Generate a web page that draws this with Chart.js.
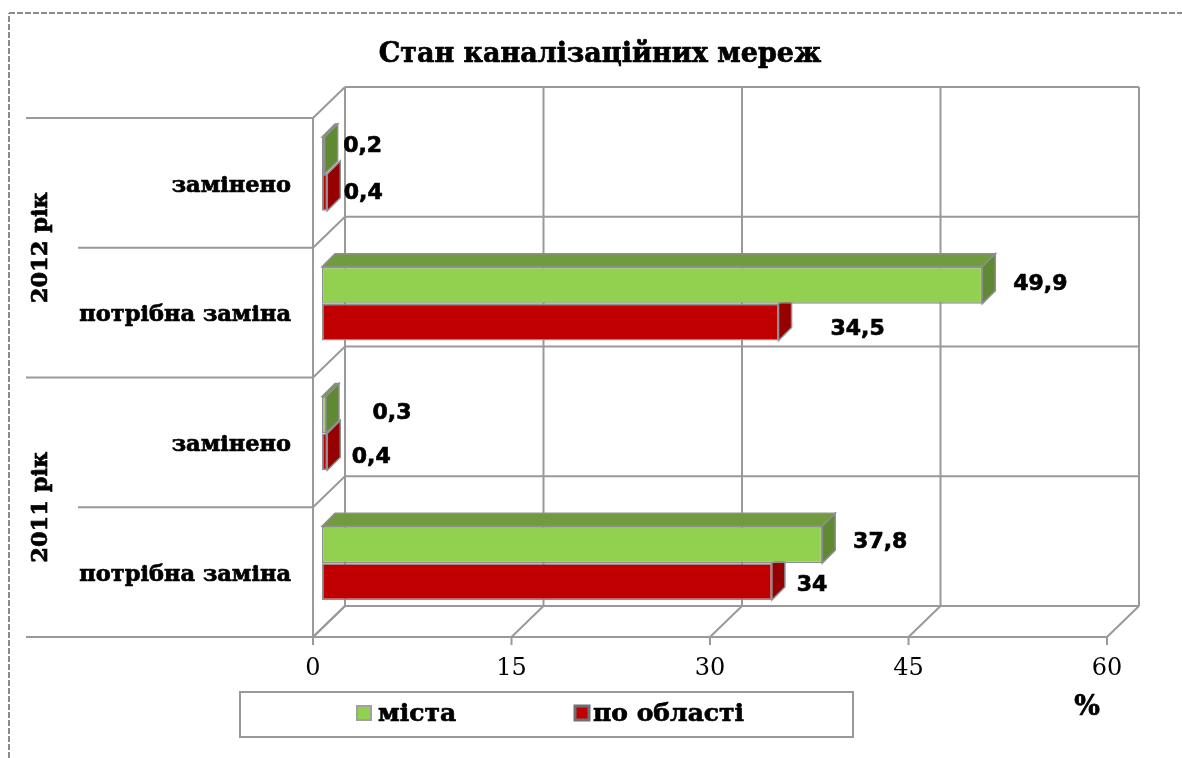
<!DOCTYPE html>
<html>
<head>
<meta charset="utf-8">
<title>Стан каналізаційних мереж</title>
<script src="https://cdn.jsdelivr.net/npm/chart.js@4"></script>
<style>
  html, body { margin: 0; background: #fff; overflow: hidden; }
  canvas { display: block; }
</style>
</head>
<body>
<canvas id="chart" width="1182" height="758"></canvas>
<script>
const chartTitle = "Стан каналізаційних мереж";
const categories = ["замінено", "потрібна заміна", "замінено", "потрібна заміна"];
const yearLabels = ["2012 рік", "2011 рік"];
const cityLabel = "міста";
const regionLabel = "по області";
const cityValues = [0.2, 49.9, 0.3, 37.8];
const regionValues = [0.4, 34.5, 0.4, 34];
const xTicks = [0, 15, 30, 45, 60];
const unitLabel = "%";

// ручні зсуви підписів від кінця стовпчика
const cityLabelShift = [[38, -9], [58, -1], [66, -2], [58, -2]];
const regionLabelShift = [[36, 1], [79, 7], [44, 5], [40, 4]];

const GRID = "#999999";
const FRONT = { dx: -9, dy: 9 };   // передня площина відносно стовпчиків
const BACK = { dx: 23, dy: -22 };  // задня стінка
const DEPTH = 13;
const SERIF = "'DejaVu Serif', serif";
const SANS = "'DejaVu Sans', sans-serif";
const HEAVY = 0.7;  // оригінальний шрифт жирніший за DejaVu

function line(ctx, x1, y1, x2, y2) {
  ctx.beginPath();
  ctx.moveTo(x1, y1);
  ctx.lineTo(x2, y2);
  ctx.stroke();
}

function poly(ctx, pts, fill) {
  ctx.beginPath();
  pts.forEach((p, i) => (i ? ctx.lineTo(p[0], p[1]) : ctx.moveTo(p[0], p[1])));
  ctx.closePath();
  ctx.fillStyle = fill;
  ctx.fill();
  ctx.strokeStyle = "#8f8f8f";
  ctx.lineWidth = 1.5;
  ctx.stroke();
}

function heavyText(ctx, text, x, y) {
  ctx.fillText(text, x, y);
  ctx.strokeText(text, x, y);
}

function bandEdge(y, i) {
  return y.top + (i * y.height) / categories.length;
}

const wallsPlugin = {
  id: "walls",
  beforeDatasetsDraw(chart) {
    const { ctx, scales: { x, y } } = chart;
    ctx.save();

    // рамка сторінки
    ctx.strokeStyle = "#8c8c8c";
    ctx.lineWidth = 2;
    ctx.setLineDash([6, 2]);
    line(ctx, 9, 758, 9, 13);
    line(ctx, 9, 13, 1182, 13);
    ctx.setLineDash([]);

    ctx.strokeStyle = GRID;
    ctx.lineWidth = 2;
    const x0 = x.getPixelForValue(xTicks[0]);
    const xN = x.getPixelForValue(xTicks[xTicks.length - 1]);

    // горизонталі: задня стінка, передні відводи, діагоналі лівої стінки
    categories.concat([""]).forEach((_, i) => {
      const e = bandEdge(y, i);
      line(ctx, x0 + BACK.dx, e + BACK.dy, xN + BACK.dx, e + BACK.dy);
      line(ctx, i % 2 ? 78 : 26, e + FRONT.dy, x0 + FRONT.dx, e + FRONT.dy);
      line(ctx, x0 + FRONT.dx, e + FRONT.dy, x0 + BACK.dx, e + BACK.dy);
    });
    line(ctx, x0 + FRONT.dx, y.top + FRONT.dy, x0 + FRONT.dx, y.bottom + FRONT.dy);
    line(ctx, x0 + FRONT.dx, y.bottom + FRONT.dy, xN + FRONT.dx, y.bottom + FRONT.dy);

    // вертикалі стінки, діагоналі підлоги, засічки
    xTicks.forEach((t) => {
      const px = x.getPixelForValue(t);
      line(ctx, px + BACK.dx, y.top + BACK.dy, px + BACK.dx, y.bottom + BACK.dy);
      line(ctx, px + FRONT.dx, y.bottom + FRONT.dy, px + BACK.dx, y.bottom + BACK.dy);
      line(ctx, px + FRONT.dx, y.bottom + FRONT.dy, px + FRONT.dx, y.bottom + FRONT.dy + 8);
    });

    // об'ємні грані стовпчиків: спочатку міста, потім область
    chart.data.datasets.forEach((ds, di) => {
      chart.getDatasetMeta(di).data.forEach((bar) => {
        const h = bar.height / 2;
        if (di === 0) {
          poly(ctx, [[bar.base, bar.y - h], [bar.base + DEPTH, bar.y - h - DEPTH], [bar.x + DEPTH, bar.y - h - DEPTH], [bar.x, bar.y - h]], ds.topColor);
        }
        poly(ctx, [[bar.x, bar.y - h], [bar.x + DEPTH, bar.y - h - DEPTH], [bar.x + DEPTH, bar.y + h - DEPTH], [bar.x, bar.y + h]], ds.sideColor);
      });
    });
    ctx.restore();
  },
  afterDatasetsDraw(chart) {
    const { ctx, scales: { y } } = chart;
    ctx.save();
    ctx.fillStyle = "#000";
    ctx.strokeStyle = "#000";
    ctx.lineWidth = HEAVY;
    ctx.textBaseline = "middle";

    // підписи значень
    ctx.font = "bold 22px " + SANS;
    ctx.textAlign = "center";
    chart.data.datasets.forEach((ds, di) => {
      chart.getDatasetMeta(di).data.forEach((bar, i) => {
        const s = ds.labelShift[i];
        heavyText(ctx, String(ds.data[i]).replace(".", ","), bar.x + s[0], bar.y + s[1]);
      });
    });

    // заголовок
    ctx.font = "bold 27px " + SERIF;
    heavyText(ctx, chartTitle, 600, 55);

    // роки, повернуті на 90 градусів
    ctx.font = "bold 22.5px " + SERIF;
    yearLabels.forEach((label, i) => {
      ctx.save();
      ctx.translate(41, bandEdge(y, i * 2 + 1) + FRONT.dy);
      ctx.rotate(-Math.PI / 2);
      heavyText(ctx, label, 0, 0);
      ctx.restore();
    });

    // одиниця виміру
    ctx.font = "bold 27px " + SERIF;
    heavyText(ctx, unitLabel, 1087, 708);

    // легенда
    ctx.strokeStyle = GRID;
    ctx.lineWidth = 2;
    ctx.strokeRect(240, 692, 613, 45);
    ctx.textAlign = "left";
    ctx.font = "bold 25px " + SERIF;
    ctx.fillStyle = chart.data.datasets[0].backgroundColor;
    ctx.strokeStyle = "#a0a0a0";
    ctx.fillRect(357, 706, 14, 14);
    ctx.strokeRect(357, 706, 14, 14);
    ctx.fillStyle = chart.data.datasets[1].backgroundColor;
    ctx.strokeStyle = "#707070";
    ctx.lineWidth = 3;
    ctx.fillRect(575, 706, 14, 14);
    ctx.strokeRect(575, 706, 14, 14);
    ctx.fillStyle = "#000";
    ctx.strokeStyle = "#000";
    ctx.lineWidth = HEAVY;
    heavyText(ctx, cityLabel, 378, 714);
    heavyText(ctx, regionLabel, 593, 714);
    ctx.restore();
  },
};

new Chart(document.getElementById("chart"), {
  type: "bar",
  data: {
    labels: categories,
    datasets: [
      {
        label: cityLabel,
        data: cityValues,
        backgroundColor: "#92d050",
        sideColor: "#5f8a33",
        topColor: "#719b3f",
        labelShift: cityLabelShift,
      },
      {
        label: regionLabel,
        data: regionValues,
        backgroundColor: "#c00000",
        sideColor: "#960000",
        labelShift: regionLabelShift,
      },
    ],
  },
  options: {
    indexAxis: "y",
    responsive: false,
    animation: false,
    layout: { padding: { left: 0, top: 109, right: 66, bottom: 0 } },
    datasets: {
      bar: {
        categoryPercentage: 74 / 130,
        barPercentage: 1,
        borderColor: "#8f8f8f",
        borderWidth: 1.5,
        borderSkipped: false,
      },
    },
    plugins: {
      legend: { display: false },
      tooltip: { enabled: false },
    },
    scales: {
      x: {
        min: 0,
        max: 60,
        grid: { display: false },
        border: { display: false },
        afterFit: (axis) => { axis.height = 130; },
        afterBuildTicks: (axis) => { axis.ticks = xTicks.map((v) => ({ value: v })); },
        ticks: {
          color: "#000",
          padding: 18,
          labelOffset: FRONT.dx,
          maxRotation: 0,
          font: { family: SERIF, size: 24 },
        },
      },
      y: {
        grid: { display: false },
        border: { display: false },
        afterFit: (axis) => { axis.width = 322; },
        ticks: {
          color: "#000",
          padding: 23,
          labelOffset: 12,
          textStrokeColor: "#000",
          textStrokeWidth: HEAVY,
          font: { family: SERIF, size: 22.5, weight: "bold" },
        },
      },
    },
  },
  plugins: [wallsPlugin],
});
</script>
</body>
</html>
